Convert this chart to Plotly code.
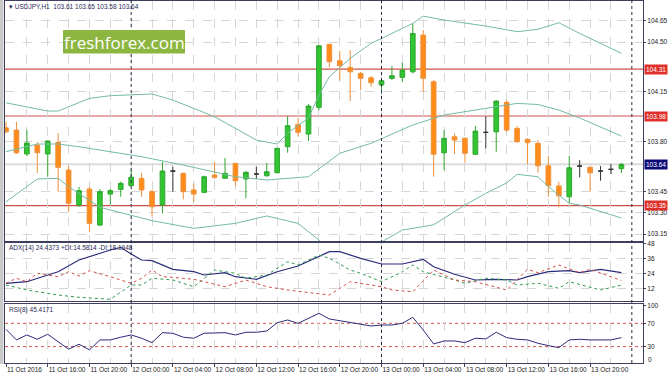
import plotly.graph_objects as go

W, H = 670, 379


def fx(x):
    return x / W


def fy(y):
    return 1 - y / H


# ---------------- data ----------------
# hourly bars, index 0 = 11 Oct 2016 12:00
opens = [103.897, 103.881, 103.713, 103.776, 103.713, 103.795, 103.600, 103.354, 103.467, 103.213,
         103.431, 103.464, 103.490, 103.542, 103.448, 103.354, 103.593, 103.577, 103.460, 103.443,
         103.565, 103.542, 103.647, 103.537, 103.572, 103.560, 103.581, 103.764, 103.921, 103.853,
         104.041, 104.484, 104.369, 104.322, 104.280, 104.249, 104.198, 104.245, 104.252, 104.291,
         104.549, 104.221, 103.722, 103.834, 103.823, 103.711, 103.865, 103.869, 104.076, 103.893,
         103.816, 103.788, 103.630, 103.488, 103.412, 103.628, 103.619, 103.593, 103.605, 103.610]
highs = [103.940, 103.940, 103.881, 103.797, 103.811, 103.860, 103.628, 103.483, 103.483, 103.467,
         103.467, 103.518, 103.600, 103.579, 103.460, 103.658, 103.623, 103.581, 103.507, 103.561,
         103.658, 103.685, 103.650, 103.593, 103.623, 103.651, 103.756, 103.980, 103.964, 104.064,
         104.480, 104.488, 104.439, 104.444, 104.291, 104.261, 104.228, 104.331, 104.355, 104.632,
         104.585, 104.233, 103.881, 103.858, 103.830, 103.910, 103.980, 104.092, 104.092, 103.910,
         103.823, 103.811, 103.699, 103.518, 103.699, 103.670, 103.623, 103.628, 103.642, 103.650]
lows = [103.860, 103.713, 103.699, 103.579, 103.553, 103.448, 103.307, 103.340, 103.166, 103.206,
        103.354, 103.412, 103.488, 103.412, 103.272, 103.296, 103.448, 103.394, 103.377, 103.438,
        103.537, 103.537, 103.490, 103.401, 103.537, 103.553, 103.578, 103.722, 103.834, 103.804,
        104.022, 104.322, 104.228, 104.085, 104.163, 104.186, 104.139, 104.233, 104.221, 104.280,
        104.151, 103.553, 103.600, 103.711, 103.651, 103.705, 103.753, 103.729, 103.867, 103.790,
        103.642, 103.581, 103.412, 103.338, 103.370, 103.549, 103.448, 103.525, 103.572, 103.580]
closes = [103.869, 103.722, 103.790, 103.722, 103.804, 103.619, 103.366, 103.455, 103.225, 103.448,
          103.455, 103.507, 103.549, 103.460, 103.342, 103.593, 103.593, 103.448, 103.431, 103.553,
          103.549, 103.577, 103.525, 103.584, 103.572, 103.588, 103.753, 103.912, 103.865, 104.050,
          104.474, 104.362, 104.334, 104.291, 104.245, 104.214, 104.228, 104.263, 104.303, 104.561,
          104.245, 103.711, 103.823, 103.811, 103.718, 103.874, 103.865, 104.085, 103.881, 103.799,
          103.792, 103.630, 103.490, 103.419, 103.616, 103.628, 103.581, 103.593, 103.605, 103.640]

tick_bars = [0, 4, 8, 12, 16, 20, 24, 28, 32, 36, 40, 44, 48, 52, 56]
tick_labels = ["11 Oct 2016", "11 Oct 16:00", "11 Oct 20:00", "12 Oct 00:00", "12 Oct 04:00",
               "12 Oct 08:00", "12 Oct 12:00", "12 Oct 16:00", "12 Oct 20:00", "13 Oct 00:00",
               "13 Oct 04:00", "13 Oct 08:00", "13 Oct 12:00", "13 Oct 16:00", "13 Oct 20:00"]
day_separators = [12, 36, 60]

# Bollinger bands (read at bar positions)
bb_up_bars = [0, 4, 5, 8, 10, 14, 16, 20, 24, 26, 27, 29, 30, 31, 33, 35, 37, 39, 40, 42, 46, 49, 51, 53, 55, 59]
bb_upper = [104.073, 104.015, 104.015, 104.104, 104.123, 104.135, 104.092, 103.975, 103.811, 103.783,
            103.860, 103.966, 104.128, 104.256, 104.386, 104.491, 104.561, 104.632, 104.683, 104.655,
            104.613, 104.573, 104.590, 104.636, 104.561, 104.421]
bb_mid_bars = [0, 3, 5, 7, 13, 17, 22, 25, 29, 32, 35, 39, 41, 42, 46, 49, 51, 53, 55, 59]
bb_middle = [103.729, 103.783, 103.783, 103.764, 103.694, 103.635, 103.553, 103.530, 103.553, 103.718,
             103.788, 103.917, 103.964, 103.987, 104.034, 104.069, 104.061, 104.022, 103.966, 103.839]
bb_low_bars = [0, 3, 5, 6, 9, 14, 18, 22, 25, 28, 30, 31, 33, 36, 38, 41, 44, 46, 48, 49, 51, 52, 54, 55, 59]
bb_lower = [103.377, 103.537, 103.542, 103.483, 103.338, 103.244, 103.190, 103.225, 103.277, 103.225,
            103.108, 103.038, 102.950, 103.094, 103.178, 103.215, 103.354, 103.436, 103.509, 103.570,
            103.553, 103.483, 103.366, 103.354, 103.263]

levels = [104.31, 103.98, 103.35]
last_price = 103.64

# ADX(14), +DI, -DI
adx_bars = [0, 2, 5, 7, 10, 11, 12, 13, 14, 16, 18, 19, 21, 22, 24, 26, 28, 31, 32, 34, 36, 38, 40,
            41, 43, 45, 47, 49, 50, 52, 54, 55, 57, 59]
adx_vals = [15.96, 17.24, 25.24, 34.6, 42.6, 44.76, 39.4, 34.6, 34.04, 27.16, 25.24, 22.6, 24.44,
            21.24, 19.16, 25.24, 29.8, 41.24, 41.24, 35.96, 31.4, 31.4, 35.16, 29.24, 23.16, 18.6,
            19.16, 18.6, 21.24, 25.24, 26.04, 24.44, 27.16, 24.44]
pdi_bars = [0, 2, 5, 7, 10, 11, 12, 13, 14, 16, 18, 20, 22, 23, 25, 27, 28, 30, 31, 33, 34, 36, 38,
            39, 40, 43, 44, 46, 48, 49, 51, 53, 54, 57, 59]
pdi_vals = [14.6, 10.6, 6.6, 4.76, 3.16, 9.0, 14.6, 14.6, 19.96, 18.6, 13.24, 26.6, 23.96, 19.96,
            22.6, 33.24, 30.6, 38.6, 35.96, 26.6, 23.96, 17.24, 25.24, 30.6, 25.24, 18.6, 15.96,
            19.96, 18.6, 14.6, 15.96, 11.96, 17.24, 10.6, 14.58]
mdi_bars = [0, 1, 2, 3, 5, 6, 7, 8, 10, 12, 13, 14, 15, 16, 18, 21, 23, 25, 27, 31, 33, 36, 37, 39,
            41, 43, 45, 48, 50, 51, 53, 55, 56, 59]
mdi_vals = [15.96, 19.96, 17.24, 23.96, 21.24, 25.24, 21.8, 26.04, 21.24, 15.96, 19.96, 26.6, 21.24,
            20.76, 19.16, 13.24, 18.6, 13.24, 10.6, 6.6, 17.24, 13.24, 10.6, 9.24, 26.6, 18.6, 17.24,
            10.6, 27.16, 24.44, 30.6, 24.44, 27.16, 18.19]

# RSI(8), one value per bar
rsi_vals = [59.7, 41.5, 50.0, 42.6, 51.2, 38.5, 25.6, 34.1, 24.4, 41.5,
            41.5, 46.1, 50.0, 44.4, 36.8, 53.9, 52.9, 46.1, 44.4, 52.9,
            52.9, 53.9, 50.0, 54.6, 54.6, 56.8, 71.0, 75.6, 70.0, 78.5,
            87.1, 77.4, 74.4, 71.0, 68.3, 65.4, 67.1, 67.1, 70.0, 80.3,
            58.5, 34.6, 39.7, 39.7, 36.8, 44.4, 43.2, 54.6, 45.4, 42.6,
            41.5, 35.8, 31.7, 28.3, 41.5, 42.6, 41.5, 41.5, 41.5, 45.4]
rsi_levels = [70, 30]

main_ticks = [104.65, 104.50, 104.15, 103.80, 103.45, 103.30, 103.15]
adx_ticks = [12, 24, 36, 48]
rsi_ticks = [100, 70, 30]

# ---------------- styles ----------------
BULL = "#33C433"
BEAR = "#FF8C1A"
DOJI = "#333333"
BAND = "#74BBA6"
LEVEL = "#D0504A"
FRAME = "#3E3E5E"
GRID = "#D6D6D6"
TXT = "#2A2A55"
FONT = "Liberation Sans"
TICKFONT = dict(family=FONT, size=6.5, color="#222")

bars = list(range(len(opens)))
is_doji = [abs(o - c) < 1e-9 for o, c in zip(opens, closes)]
nb = [i for i in bars if not is_doji[i]]
db = [i for i in bars if is_doji[i]]

fig = go.Figure()

for bx, by in [(bb_up_bars, bb_upper), (bb_mid_bars, bb_middle), (bb_low_bars, bb_lower)]:
    fig.add_trace(go.Scatter(x=bx, y=by, mode="lines", line=dict(color=BAND, width=1),
                             xaxis="x", yaxis="y", hoverinfo="skip", showlegend=False))

fig.add_trace(go.Candlestick(
    x=nb, open=[opens[i] for i in nb], high=[highs[i] for i in nb],
    low=[lows[i] for i in nb], close=[closes[i] for i in nb],
    increasing=dict(line=dict(color="#2EA82E", width=1), fillcolor=BULL),
    decreasing=dict(line=dict(color="#F0903A", width=1), fillcolor=BEAR),
    xaxis="x", yaxis="y", showlegend=False))
fig.add_trace(go.Candlestick(
    x=db, open=[opens[i] for i in db], high=[highs[i] for i in db],
    low=[lows[i] for i in db], close=[closes[i] for i in db],
    increasing=dict(line=dict(color=DOJI, width=1), fillcolor=DOJI),
    decreasing=dict(line=dict(color=DOJI, width=1), fillcolor=DOJI),
    xaxis="x", yaxis="y", showlegend=False))

fig.add_trace(go.Scatter(x=adx_bars, y=adx_vals, mode="lines", line=dict(color="#2B2B7A", width=1.2),
                         xaxis="x2", yaxis="y2", showlegend=False))
fig.add_trace(go.Scatter(x=pdi_bars, y=pdi_vals, mode="lines", line=dict(color="#2E9A4E", width=1, dash="dot"),
                         xaxis="x2", yaxis="y2", showlegend=False))
fig.add_trace(go.Scatter(x=mdi_bars, y=mdi_vals, mode="lines", line=dict(color="#D0504A", width=1, dash="dot"),
                         xaxis="x2", yaxis="y2", showlegend=False))

fig.add_trace(go.Scatter(x=bars, y=rsi_vals, mode="lines", line=dict(color="#2B2B7A", width=1),
                         xaxis="x3", yaxis="y3", showlegend=False))

# ---------------- layout ----------------
XL, XR = 5, 643
xdom = [fx(XL), fx(XR)]
xrange = [-0.096, 61.07]
minor_vals = [b + 2 for b in tick_bars]


def xaxis_cfg(anchor, labels):
    return dict(domain=xdom, anchor=anchor, range=xrange, tickmode="array", tickvals=tick_bars,
                ticktext=tick_labels if labels else [""] * len(tick_bars),
                showticklabels=labels, ticks="outside" if labels else "", ticklen=3, tickcolor=FRAME,
                ticklabelposition="outside right", tickangle=0, tickfont=TICKFONT,
                showgrid=True, gridcolor=GRID, griddash="dash", gridwidth=1,
                minor=dict(tickmode="array", tickvals=minor_vals, showgrid=True, gridcolor=GRID,
                           griddash="dash", gridwidth=1),
                showline=True, mirror=True, linecolor=FRAME, linewidth=1, zeroline=False,
                rangeslider=dict(visible=False), fixedrange=True, automargin=False)


def yaxis_cfg(anchor, dom, rng, vals, grid=True):
    return dict(domain=dom, anchor=anchor, side="right", range=rng, tickmode="array",
                tickvals=vals, ticktext=[f"{v:.2f}" if isinstance(v, float) else str(v) for v in vals],
                ticks="outside", ticklen=2, tickcolor=FRAME, tickfont=TICKFONT,
                showgrid=grid, gridcolor=GRID, griddash="dash", gridwidth=1,
                showline=True, mirror=True, linecolor=FRAME, linewidth=1, zeroline=False,
                automargin=False, fixedrange=True)


fig.update_layout(
    width=W, height=H, margin=dict(l=0, r=0, t=0, b=0),
    paper_bgcolor="white", plot_bgcolor="white", showlegend=False,
    boxgap=0.36,
    xaxis=xaxis_cfg("y", False), xaxis2=xaxis_cfg("y2", False), xaxis3=xaxis_cfg("y3", True),
    yaxis=yaxis_cfg("x", [fy(241), fy(1)], [103.101, 104.789], main_ticks),
    yaxis2=yaxis_cfg("x2", [fy(301), fy(243)], [1.8, 48.2], adx_ticks),
    yaxis3=yaxis_cfg("x3", [fy(363), fy(304)], [1.9, 103.1], rsi_ticks, grid=False),
    font=dict(family=FONT, size=7, color="#222"),
)
fig.layout.xaxis2.matches = "x"
fig.layout.xaxis3.matches = "x"

shapes = []
# left window strip
shapes.append(dict(type="rect", xref="paper", yref="paper", x0=0, x1=fx(3.5), y0=fy(364), y1=1,
                   fillcolor="#C9C9C9", line=dict(width=0), layer="above"))
# bid line
shapes.append(dict(type="line", xref="paper", yref="y", x0=xdom[0], x1=xdom[1], y0=last_price, y1=last_price,
                   line=dict(color="#DCDCDC", width=2), layer="below"))
# level lines
for lv in levels:
    shapes.append(dict(type="line", xref="paper", yref="y", x0=xdom[0], x1=xdom[1], y0=lv, y1=lv,
                       line=dict(color=LEVEL, width=1.2), layer="below"))
# RSI levels
for lv in rsi_levels:
    shapes.append(dict(type="line", xref="paper", yref="y3", x0=xdom[0], x1=xdom[1], y0=lv, y1=lv,
                       line=dict(color=LEVEL, width=1, dash="dot"), layer="below"))
# day separators
for d in day_separators:
    shapes.append(dict(type="line", xref="x", yref="paper", x0=d, x1=d, y0=fy(363), y1=1,
                       line=dict(color="#2A2A45", width=1, dash="dot"), layer="above"))
# watermark box
shapes.append(dict(type="rect", xref="paper", yref="paper", x0=fx(63), x1=fx(185), y0=fy(53.5), y1=fy(30),
                   fillcolor="#8DB640", line=dict(width=0), layer="above"))
fig.update_layout(shapes=shapes)

ann = []
ann.append(dict(xref="paper", yref="paper", x=fx(7), y=fy(6), xanchor="left", yanchor="middle",
                text="▾ USDJPY,H1  103.61 103.65 103.58 103.64", showarrow=False,
                font=dict(family=FONT, size=6.5, color=TXT)))
ann.append(dict(xref="paper", yref="paper", x=fx(124), y=fy(42), xanchor="center", yanchor="middle",
                text="freshforex.com", showarrow=False,
                font=dict(family="Open Sans", size=17, color="white")))
ann.append(dict(xref="paper", yref="paper", x=fx(7), y=fy(248), xanchor="left", yanchor="middle",
                text="ADX(14) 24.4373 +DI:14.5814 -DI:18.1948", showarrow=False,
                font=dict(family=FONT, size=6.5, color=TXT)))
ann.append(dict(xref="paper", yref="paper", x=fx(7), y=fy(310), xanchor="left", yanchor="middle",
                text="RSI(8) 45.4171", showarrow=False,
                font=dict(family=FONT, size=6.5, color=TXT)))
for lv in levels:
    ann.append(dict(xref="paper", yref="y", x=fx(643.5), y=lv, xanchor="left", yanchor="middle",
                    text=f"{lv:.2f}", showarrow=False, bgcolor="#E0302A", borderpad=1,
                    font=dict(family=FONT, size=6.5, color="white")))
ann.append(dict(xref="paper", yref="y", x=fx(643.5), y=last_price, xanchor="left", yanchor="middle",
                text=f"{last_price:.2f}", showarrow=False, bgcolor="#0B0B78", borderpad=1,
                font=dict(family=FONT, size=6.5, color="white")))
ann.append(dict(xref="paper", yref="paper", x=fx(646), y=fy(359), xanchor="left", yanchor="middle",
                text="0", showarrow=False, font=TICKFONT))
fig.update_layout(annotations=ann)

fig.write_html("out.html", config={"displayModeBar": False},
               post_script="document.body.style.margin='0';document.body.style.padding='0';")
